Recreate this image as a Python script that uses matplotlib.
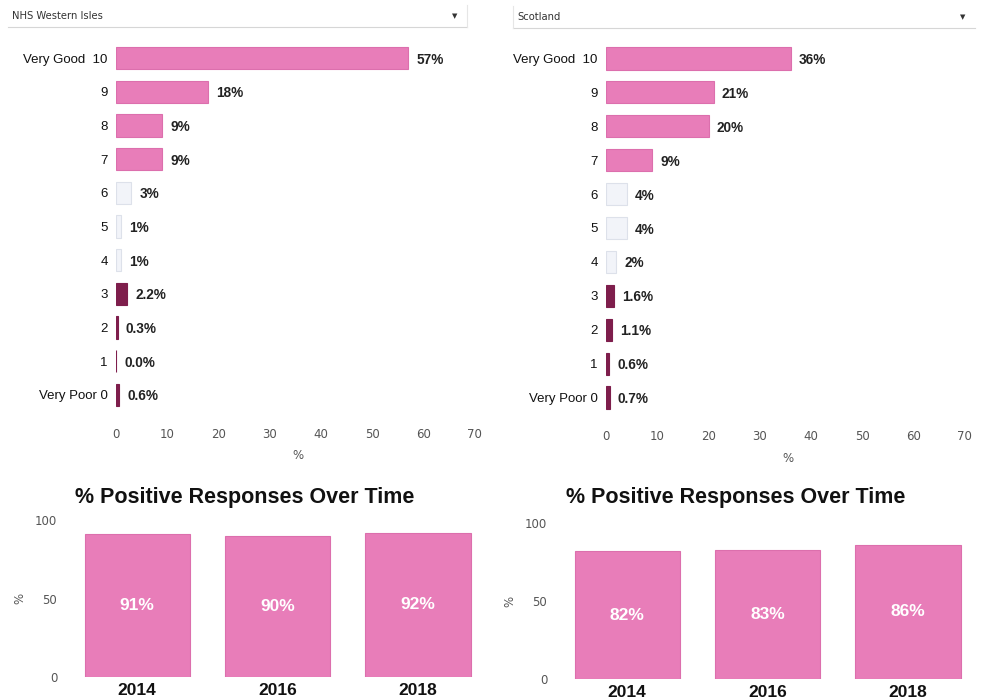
import matplotlib
matplotlib.use("Agg")
import matplotlib.pyplot as plt
from matplotlib.lines import Line2D

plt.rcParams['font.family'] = ['Liberation Sans', 'DejaVu Sans']

# ---------------- data ----------------
scores = [10, 9, 8, 7, 6, 5, 4, 3, 2, 1, 0]
score_labels = ["Very Good  10", "9", "8", "7", "6", "5", "4", "3", "2", "1", "Very Poor 0"]
wi_values = [57, 18, 9, 9, 3, 1, 1, 2.2, 0.3, 0.0, 0.6]
wi_text = ["57%", "18%", "9%", "9%", "3%", "1%", "1%", "2.2%", "0.3%", "0.0%", "0.6%"]
sc_values = [36, 21, 20, 9, 4, 4, 2, 1.6, 1.1, 0.6, 0.7]
sc_text = ["36%", "21%", "20%", "9%", "4%", "4%", "2%", "1.6%", "1.1%", "0.6%", "0.7%"]
years = ["2014", "2016", "2018"]
wi_positive = [91, 90, 92]
sc_positive = [82, 83, 86]
x_ticks = [0, 10, 20, 30, 40, 50, 60, 70]
y_ticks = [0, 50, 100]

PINK = "#E87DB9"
PINK_EDGE = "#DC6FAD"
LIGHT = "#F2F4F9"
LIGHT_EDGE = "#DDE1EA"
DARK = "#7E1E4C"

def bar_color(s):
    if s >= 7:
        return PINK, PINK_EDGE
    if s >= 4:
        return LIGHT, LIGHT_EDGE
    return DARK, DARK

W, H = 983, 698
fig = plt.figure(figsize=(W / 100, H / 100), dpi=100)
fig.patch.set_facecolor("white")

def ax_px(l, t, r, b):
    return fig.add_axes([l / W, 1 - b / H, (r - l) / W, (b - t) / H])

def dropdown(l, t, r, b, text, side):
    fig.add_artist(Line2D([l / W, r / W], [1 - b / H, 1 - b / H], color="#D6D6D6", lw=0.8))
    xs = r if side == "right" else l
    fig.add_artist(Line2D([xs / W, xs / W], [1 - b / H, 1 - t / H], color="#E6E6E6", lw=0.8))
    fig.text((l + 4) / W, 1 - (t + b) / 2 / H, text, fontsize=7.2, family="DejaVu Sans",
             color="#333333", va="center", ha="left")
    fig.text((r - 12) / W, 1 - (t + b) / 2 / H, "\u25BC", fontsize=5, family="DejaVu Sans",
             color="#333333", va="center", ha="center")

def hbar_panel(l, t, r, b, values, texts):
    ax = ax_px(l, t, r, b)
    cols = [bar_color(s) for s in scores]
    ax.barh(scores, values, height=0.66, color=[c[0] for c in cols],
            edgecolor=[c[1] for c in cols], linewidth=0.8)
    for s, v, tx in zip(scores, values, texts):
        ax.annotate(tx, (v, s), xytext=(6, 0), textcoords="offset points",
                    ha="left", va="center_baseline", fontsize=9.8, fontweight="bold",
                    color="#222222")
    ax.set_xlim(0, 71)
    ax.set_ylim(-0.6, 10.6)
    ax.set_xticks(x_ticks)
    ax.set_yticks(scores)
    ax.set_yticklabels(score_labels)
    ax.tick_params(axis="y", length=0, pad=6, labelsize=9.5, labelcolor="#111111")
    ax.tick_params(axis="x", length=0, pad=9, labelsize=8.5, labelcolor="#555555")
    for lab in ax.get_xticklabels():
        lab.set_family("DejaVu Sans")
    ax.set_xlabel("%", fontsize=8.5, color="#555555", family="DejaVu Sans", labelpad=6)
    for sp in ax.spines.values():
        sp.set_visible(False)
    return ax

def vbar_panel(l, t, r, b, values, title_x):
    ax = ax_px(l, t, r, b)
    x = list(range(len(years)))
    ax.bar(x, values, width=0.75, color=PINK, edgecolor=PINK_EDGE, linewidth=0.8)
    for xi, v in zip(x, values):
        ax.text(xi, v / 2, f"{v}%", ha="center", va="center", fontsize=12.5,
                fontweight="bold", color="white")
    ax.set_xlim(-0.45, 2.42)
    ax.set_ylim(0, 100)
    ax.set_yticks(y_ticks)
    ax.set_xticks(x)
    ax.set_xticklabels(years)
    ax.tick_params(axis="x", length=0, pad=4, labelsize=12.5, labelcolor="#111111")
    for lab in ax.get_xticklabels():
        lab.set_fontweight("bold")
    ax.tick_params(axis="y", length=0, pad=12, labelsize=8.5, labelcolor="#555555")
    for lab in ax.get_yticklabels():
        lab.set_family("DejaVu Sans")
    ax.set_ylabel("%", fontsize=8.5, color="#555555", family="DejaVu Sans", labelpad=6)
    for sp in ax.spines.values():
        sp.set_visible(False)
    fig.text(title_x / W, 1 - 498 / H, "% Positive Responses Over Time", ha="center",
             va="center", fontsize=15.5, fontweight="bold", color="#111111")
    return ax

dropdown(8, 5, 467, 27, "NHS Western Isles", "right")
dropdown(513, 6, 975, 28, "Scotland", "left")

hbar_panel(116, 38, 480, 415, wi_values, wi_text)
hbar_panel(606, 38, 970, 418, sc_values, sc_text)

vbar_panel(74, 520, 477, 677, wi_positive, 245)
vbar_panel(564, 523, 967, 679, sc_positive, 736)

fig.savefig("out.png", dpi=100, facecolor="white")
